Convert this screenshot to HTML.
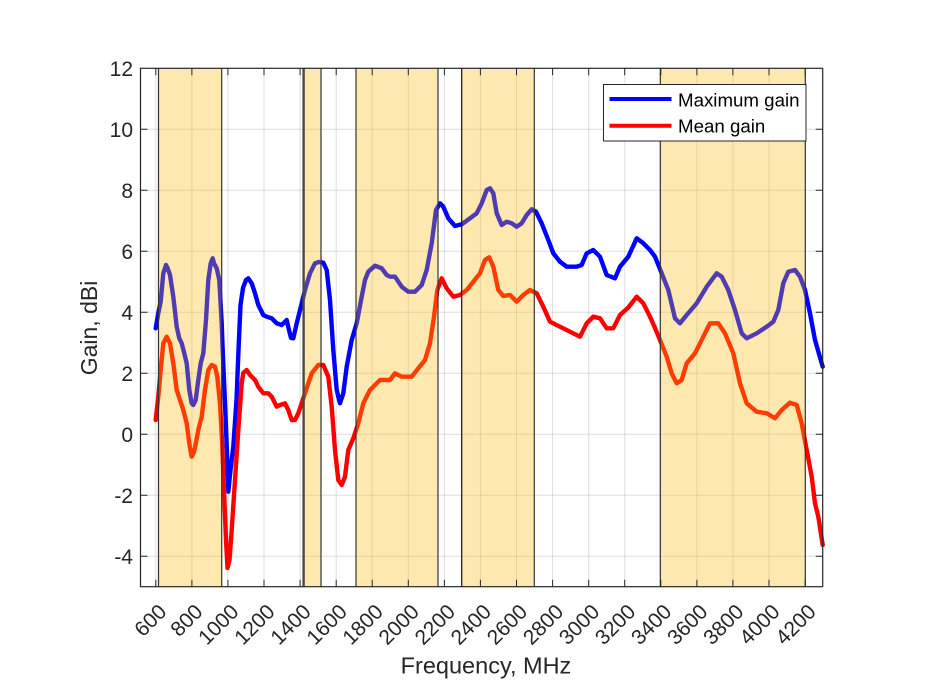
<!DOCTYPE html>
<html>
<head>
<meta charset="utf-8">
<style>
  html,body{margin:0;padding:0;background:#fff;}
  svg{display:block;}
  text{font-family:"Liberation Sans", Arial, sans-serif; fill:#262626;}
</style>
</head>
<body>
<svg width="933" height="700" viewBox="0 0 933 700" xmlns="http://www.w3.org/2000/svg">
  <rect x="0" y="0" width="933" height="700" fill="#ffffff"/>
  <rect x="140.5" y="68.3" width="682.2" height="518.4" fill="#ffffff"/>

  <g stroke="#262626" stroke-opacity="0.15" stroke-width="1">
    <line x1="155.8" y1="68.3" x2="155.8" y2="586.7"/>
    <line x1="191.9" y1="68.3" x2="191.9" y2="586.7"/>
    <line x1="227.9" y1="68.3" x2="227.9" y2="586.7"/>
    <line x1="264.0" y1="68.3" x2="264.0" y2="586.7"/>
    <line x1="300.1" y1="68.3" x2="300.1" y2="586.7"/>
    <line x1="336.2" y1="68.3" x2="336.2" y2="586.7"/>
    <line x1="372.2" y1="68.3" x2="372.2" y2="586.7"/>
    <line x1="408.3" y1="68.3" x2="408.3" y2="586.7"/>
    <line x1="444.4" y1="68.3" x2="444.4" y2="586.7"/>
    <line x1="480.4" y1="68.3" x2="480.4" y2="586.7"/>
    <line x1="516.5" y1="68.3" x2="516.5" y2="586.7"/>
    <line x1="552.6" y1="68.3" x2="552.6" y2="586.7"/>
    <line x1="588.7" y1="68.3" x2="588.7" y2="586.7"/>
    <line x1="624.7" y1="68.3" x2="624.7" y2="586.7"/>
    <line x1="660.8" y1="68.3" x2="660.8" y2="586.7"/>
    <line x1="696.9" y1="68.3" x2="696.9" y2="586.7"/>
    <line x1="732.9" y1="68.3" x2="732.9" y2="586.7"/>
    <line x1="769.0" y1="68.3" x2="769.0" y2="586.7"/>
    <line x1="805.1" y1="68.3" x2="805.1" y2="586.7"/>

    <line x1="140.5" y1="129.3" x2="822.7" y2="129.3"/>
    <line x1="140.5" y1="190.3" x2="822.7" y2="190.3"/>
    <line x1="140.5" y1="251.2" x2="822.7" y2="251.2"/>
    <line x1="140.5" y1="312.2" x2="822.7" y2="312.2"/>
    <line x1="140.5" y1="373.2" x2="822.7" y2="373.2"/>
    <line x1="140.5" y1="434.2" x2="822.7" y2="434.2"/>
    <line x1="140.5" y1="495.2" x2="822.7" y2="495.2"/>
    <line x1="140.5" y1="556.2" x2="822.7" y2="556.2"/>
  </g>

  <g fill="none" stroke-width="4.4" stroke-linejoin="round" stroke-linecap="round">
    <polyline stroke="#0000ff" points="155.7,328.3 158.3,313.3 160.7,301.7 163.3,273.3 166,265 167.7,268.3 170,275 173.3,296.7 176.7,326.7 179.3,338.3 181.7,343.3 184.3,353.3 186.7,363.3 189.3,390 191.7,403.3 193.3,405 195.7,400 198.3,380 200.7,363.3 203.3,353.3 206,320 208.3,280 210.7,263.3 212.7,258.3 214,263.3 216.7,268.3 219.3,280 221.7,323.3 222.5,345 224.5,392 226.5,440 228.3,491.7 230.5,470 233.3,446.7 236.5,400 238.5,350 240.5,305 243,288 246,280 248.3,278.3 251.7,283.3 255,293.3 258.3,305 263.3,315 266.7,316.7 271.7,318.3 276.7,323.3 281.7,325 286.7,320 289,330 291,338 293.3,338.3 296.7,323.3 301.7,303.3 305,290 310,273.3 315,263.3 319,262 323.3,262.7 326.7,270 330,300 333.3,350 336.7,390 340,403.3 343.3,393.3 346.7,366.7 351.7,340 356.7,323.3 361.7,296.7 365,280 368.3,271.7 375,265.7 381.7,268.3 386.7,275 390,276.7 395,276.7 401.7,286.7 408.3,291.7 415,291.7 421.7,285 426.7,270 431.7,243.3 436,210 440,203.3 443.3,206.7 448.3,218.3 455,226 461.7,224.3 470,218.3 476.7,213.3 481.7,203.3 486.7,190 490,188.3 493.3,193.3 496.7,213.3 501.7,225 506.7,221.7 511.7,223.3 516.7,226.7 521.7,223.3 526.7,215 531.7,209.3 536,211.7 541.7,223.3 548.3,240 553.3,253.3 560,261.7 566.7,266.7 576.7,266.7 581.7,265 586.7,253.3 593.3,250 600,256.7 606.7,275 615,278.3 620,266.7 628.3,256.7 636.7,238.3 643.3,243.3 650,250 655,256.7 661.7,273.3 668.3,290 675,318.3 680,323.3 686.7,315 696.7,303.3 706.7,286.7 716.7,273.3 721.7,276.7 728.3,290 735,310 741.7,333.3 746.7,338.3 756.7,333.3 766.7,326.7 773.3,321.7 778.3,310 783.3,283.3 788.3,271.7 795,270 800,276.7 805,290 810,313.3 815,340 822.7,366.7"/>
    <polyline stroke="#ff0000" points="155.7,420 158.3,396.7 160.7,370 163.3,343.3 166.7,336.7 170,343.3 173.3,363.3 176.7,390 180,400 183.3,410 186.7,423.3 189.5,445 191.7,456.7 194,452 196.5,440 198.3,430 201.7,416.7 205,390 208.3,370 211.7,365 215,366.7 217.3,376.7 220,403.3 222,440 224,490 226,540 227.5,568 229.5,560 231.7,530 235,480 238.3,430 241.7,383.3 243.3,373 246.7,370 250,375 255,380 258.3,386.7 263.3,393.3 268.3,393.3 271.7,396.7 276.7,406.7 280,405 285,403.3 288.3,410 291.7,420 295,420 298.3,413.3 305,393.3 311.7,373.3 318.3,365 323.3,365 328.3,376.7 331.7,406.7 335,450 338.3,480 341.7,485 345,476.7 348.3,450 353.3,438.3 358.3,423.3 363.3,403.3 370,390 380,380 390,380 395,373.3 401.7,376.7 411.7,376.7 418.3,368.3 425,360 430,343.3 434,316.7 437.3,290 441.7,278.3 446.7,288.3 453.3,296.7 460,295 466.7,290 473.3,281.7 480,273.3 485,260 489.3,257.3 493.3,266.7 498.3,290 503.3,296 510,295 516.7,301.7 523.3,295 530,290 536.7,293.3 543.3,306.7 550,321.7 560,326.7 570,331.7 580,336.7 586.7,323.3 593.3,316.7 600,318.3 606.7,328.3 613.3,328.3 620,315 628.3,307.5 636.7,296.7 643.3,303.3 650,316.7 655,328 660,340 666.7,356.7 671.7,373.3 676.7,383.3 681.7,380 686.7,363.3 695,353.3 703.3,336.7 710,323.3 718.3,323.3 725,333.3 733.3,353.3 740,383.3 746.7,403.3 756.7,411.7 766.7,413.3 775,418.3 781.7,410 790,402.7 796.7,405 801.7,423.3 806.7,450 811.7,476.7 815,503.3 818.3,516.7 822.7,545"/>
  </g>

  <g fill="rgb(250,187,10)" fill-opacity="0.32">
    <rect x="158.5" y="68.3" width="63.2" height="518.4"/>
    <rect x="303.5" y="68.3" width="17.5" height="518.4"/>
    <rect x="356" y="68.3" width="82" height="518.4"/>
    <rect x="461.7" y="68.3" width="72.6" height="518.4"/>
    <rect x="660.3" y="68.3" width="145" height="518.4"/>
  </g>
  <g stroke="#333333" stroke-width="1.2">
    <line x1="158.5" y1="68.3" x2="158.5" y2="586.7"/>
    <line x1="221.7" y1="68.3" x2="221.7" y2="586.7"/>
    <line x1="303.6" y1="68.3" x2="303.6" y2="586.7" stroke="#4a4a40" stroke-width="2.4"/>
    <line x1="321" y1="68.3" x2="321" y2="586.7"/>
    <line x1="356" y1="68.3" x2="356" y2="586.7"/>
    <line x1="438" y1="68.3" x2="438" y2="586.7"/>
    <line x1="461.7" y1="68.3" x2="461.7" y2="586.7" stroke="#111"/>
    <line x1="534.3" y1="68.3" x2="534.3" y2="586.7"/>
    <line x1="660.3" y1="68.3" x2="660.3" y2="586.7"/>
    <line x1="805.3" y1="68.3" x2="805.3" y2="586.7"/>
  </g>

  <rect x="140.5" y="68.3" width="682.2" height="518.4" fill="none" stroke="#262626" stroke-width="1.2"/>

  <g stroke="#262626" stroke-width="1">
    <path d="M155.8,586.7v-7 M191.9,586.7v-7 M227.9,586.7v-7 M264.0,586.7v-7 M300.1,586.7v-7 M336.2,586.7v-7 M372.2,586.7v-7 M408.3,586.7v-7 M444.4,586.7v-7 M480.4,586.7v-7 M516.5,586.7v-7 M552.6,586.7v-7 M588.7,586.7v-7 M624.7,586.7v-7 M660.8,586.7v-7 M696.9,586.7v-7 M732.9,586.7v-7 M769.0,586.7v-7 M805.1,586.7v-7"/>
    <path d="M155.8,68.3v7 M191.9,68.3v7 M227.9,68.3v7 M264.0,68.3v7 M300.1,68.3v7 M336.2,68.3v7 M372.2,68.3v7 M408.3,68.3v7 M444.4,68.3v7 M480.4,68.3v7 M516.5,68.3v7 M552.6,68.3v7 M588.7,68.3v7 M624.7,68.3v7 M660.8,68.3v7 M696.9,68.3v7 M732.9,68.3v7 M769.0,68.3v7 M805.1,68.3v7"/>
    <path d="M140.5,129.3h7 M140.5,190.3h7 M140.5,251.2h7 M140.5,312.2h7 M140.5,373.2h7 M140.5,434.2h7 M140.5,495.2h7 M140.5,556.2h7"/>
    <path d="M822.7,129.3h-7 M822.7,190.3h-7 M822.7,251.2h-7 M822.7,312.2h-7 M822.7,373.2h-7 M822.7,434.2h-7 M822.7,495.2h-7 M822.7,556.2h-7"/>
  </g>

  <g font-size="21" text-anchor="end">
    <text x="133" y="76">12</text>
    <text x="133" y="137">10</text>
    <text x="133" y="198">8</text>
    <text x="133" y="258.9">6</text>
    <text x="133" y="319.9">4</text>
    <text x="133" y="380.9">2</text>
    <text x="133" y="441.9">0</text>
    <text x="133" y="502.9">-2</text>
    <text x="133" y="563.9">-4</text>
  </g>

  <g font-size="21" text-anchor="end">
    <text transform="translate(167.8,613) rotate(-45)">600</text>
    <text transform="translate(203.9,613) rotate(-45)">800</text>
    <text transform="translate(239.9,613) rotate(-45)">1000</text>
    <text transform="translate(276.0,613) rotate(-45)">1200</text>
    <text transform="translate(312.1,613) rotate(-45)">1400</text>
    <text transform="translate(348.2,613) rotate(-45)">1600</text>
    <text transform="translate(384.2,613) rotate(-45)">1800</text>
    <text transform="translate(420.3,613) rotate(-45)">2000</text>
    <text transform="translate(456.4,613) rotate(-45)">2200</text>
    <text transform="translate(492.4,613) rotate(-45)">2400</text>
    <text transform="translate(528.5,613) rotate(-45)">2600</text>
    <text transform="translate(564.6,613) rotate(-45)">2800</text>
    <text transform="translate(600.7,613) rotate(-45)">3000</text>
    <text transform="translate(636.7,613) rotate(-45)">3200</text>
    <text transform="translate(672.8,613) rotate(-45)">3400</text>
    <text transform="translate(708.9,613) rotate(-45)">3600</text>
    <text transform="translate(744.9,613) rotate(-45)">3800</text>
    <text transform="translate(781.0,613) rotate(-45)">4000</text>
    <text transform="translate(817.1,613) rotate(-45)">4200</text>
  </g>

  <text x="486" y="673.5" font-size="23.5" text-anchor="middle">Frequency, MHz</text>
  <text transform="translate(97,328) rotate(-90)" font-size="23" text-anchor="middle">Gain, dBi</text>

  <rect x="603.5" y="84.5" width="202.5" height="56.5" fill="#ffffff" stroke="#262626" stroke-width="1"/>
  <line x1="609.5" y1="99" x2="671.5" y2="99" stroke="#0000ff" stroke-width="4"/>
  <line x1="609.5" y1="125.7" x2="671.5" y2="125.7" stroke="#ff0000" stroke-width="4"/>
  <text x="678" y="106.5" font-size="18.7" style="fill:#000">Maximum gain</text>
  <text x="678" y="132.5" font-size="18.7" style="fill:#000">Mean gain</text>
</svg>
</body>
</html>
